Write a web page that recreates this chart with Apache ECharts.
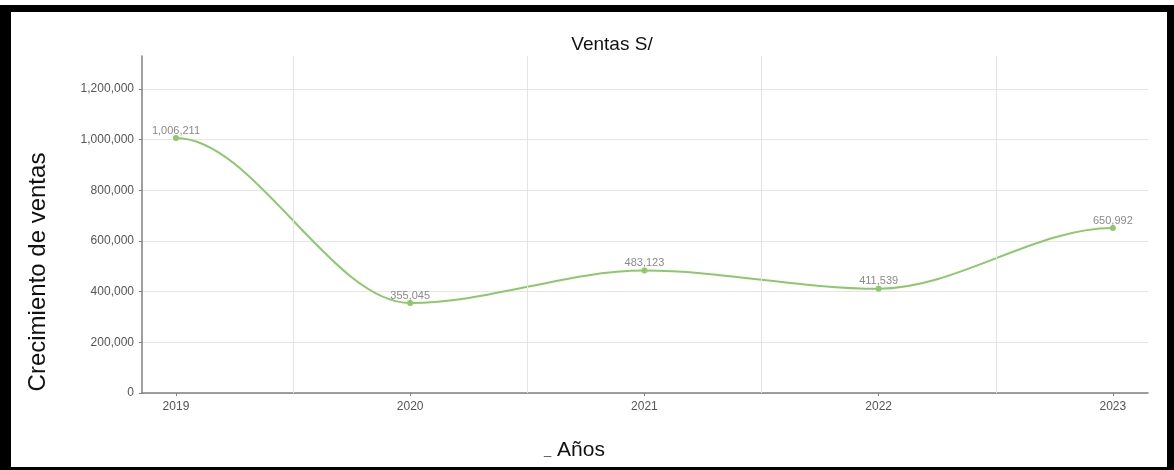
<!DOCTYPE html>
<html><head><meta charset="utf-8">
<script src="https://cdn.jsdelivr.net/npm/echarts@6/dist/echarts.min.js"></script>
<style>
html,body{margin:0;padding:0;background:#fff;}
#chart{position:absolute;left:0;top:0;width:1174px;height:470px;}
#frame{position:absolute;left:0;top:5px;width:1174px;height:465px;box-sizing:border-box;border-style:solid;border-color:#000;border-width:7px 7px 3px 11px;pointer-events:none;}
</style></head><body>
<div id="chart"></div><div id="frame"></div>
<script>
const years = [2019, 2020, 2021, 2022, 2023];
const sales = [1006211, 355045, 483123, 411539, 650992];
const titleText = 'Ventas S/';
const yName = 'Crecimiento de ventas';
const xName = 'Años';

const halfYears = years.slice(1).map(y => y - 0.5);
const segments = years.slice(1).map((y, i) => [years[i], sales[i], y, sales[i + 1]]);
const fmt = v => Math.round(v).toLocaleString('en-US');
const FONT = '"Liberation Sans", Arial, sans-serif';
const GREEN = '#8cc96a';
const xMin = 2018.855, xMax = 2023.15;

const chart = echarts.init(document.getElementById('chart'), null, {renderer: 'canvas'});
chart.setOption({
  animation: false,
  backgroundColor: 'transparent',
  title: {
    text: titleText, left: 607, top: 30, textAlign: 'center',
    textStyle: {fontFamily: FONT, fontSize: 19, fontWeight: 'normal', color: '#111'}
  },
  grid: {left: 142, right: 26, top: 56, bottom: 77, containLabel: false},
  xAxis: {
    type: 'value', min: xMin, max: xMax,
    axisLine: {show: true, lineStyle: {color: '#808080', width: 1.5}},
    axisTick: {show: true, interval: 0, customValues: years, length: 3, lineStyle: {color: '#808080'}},
    axisLabel: {interval: 0, customValues: years, formatter: v => String(v), color: '#555', fontSize: 12, fontFamily: FONT, margin: 8},
    splitLine: {show: false}
  },
  yAxis: {
    type: 'value', min: 0, max: 1330000, interval: 200000,
    axisLine: {show: true, lineStyle: {color: '#808080', width: 1.5}},
    axisTick: {show: true, length: 3, lineStyle: {color: '#808080'}},
    axisLabel: {formatter: v => fmt(v), showMaxLabel: false, color: '#555', fontSize: 12, fontFamily: FONT, margin: 8},
    splitLine: {show: true, showMaxLine: false, lineStyle: {color: '#e6e6e6', width: 1}}
  },
  graphic: [{
    type: 'text', x: 38, y: 272, rotation: Math.PI / 2,
    style: {text: yName, font: '24px ' + FONT, fill: '#111', align: 'center', verticalAlign: 'middle'}
  }, {
    type: 'text', left: 544, top: 440,
    style: {
      text: '{a|_}{b| ' + xName + '}',
      rich: {
        a: {fontSize: 13, fontFamily: FONT, fill: '#444', color: '#444'},
        b: {fontSize: 21, fontFamily: FONT, fill: '#111', color: '#111'}
      }
    }
  }],
  series: [{
    type: 'custom', z: 2, silent: true,
    data: segments,
    encode: {x: [0, 2], y: [1, 3]},
    renderItem: (params, api) => {
      const p0 = api.coord([api.value(0), api.value(1)]);
      const p1 = api.coord([api.value(2), api.value(3)]);
      const dx = (p1[0] - p0[0]) / 3;
      return {
        type: 'bezierCurve',
        shape: {x1: p0[0], y1: p0[1], x2: p1[0], y2: p1[1],
                cpx1: p0[0] + dx, cpy1: p0[1], cpx2: p1[0] - dx, cpy2: p1[1]},
        style: {stroke: GREEN, lineWidth: 2, fill: null}
      };
    },
    markLine: {
      silent: true, symbol: ['none', 'none'], label: {show: false},
      lineStyle: {color: '#e4e4e4', width: 1, type: 'solid'},
      data: halfYears.map(v => ({xAxis: v}))
    }
  }, {
    type: 'scatter', z: 3,
    data: years.map((y, i) => [y, sales[i]]),
    symbol: 'circle', symbolSize: 6,
    itemStyle: {color: GREEN, opacity: 1},
    label: {show: true, position: 'top', distance: -1, formatter: p => fmt(p.value[1]), color: '#8a8a8a', fontSize: 11, fontFamily: FONT}
  }]
});
</script>
</body></html>
